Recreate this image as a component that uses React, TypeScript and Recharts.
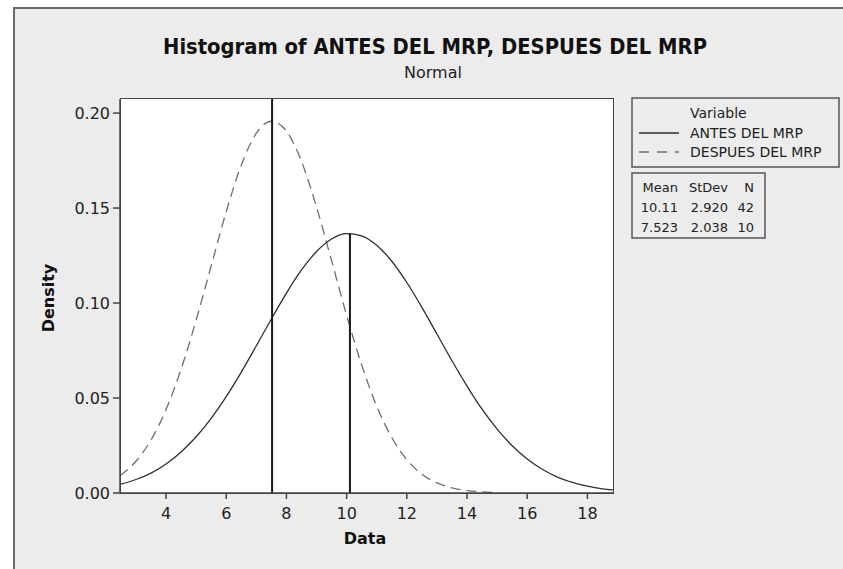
import React from "react";
import { LineChart, Line, XAxis, YAxis, ReferenceLine } from "recharts";

// x positions where the fitted densities are sampled
const xValues = [
  2.47, 3, 3.5, 4, 4.5, 5, 5.5, 6, 6.5, 7, 7.5, 8, 8.5, 9, 9.5, 10, 10.5, 11,
  11.5, 12, 12.5, 13, 13.5, 14, 14.5, 15, 15.5, 16, 16.5, 17, 17.5, 18, 18.5,
  18.85,
];

// ANTES DEL MRP fitted normal density
const antesDensity = [
  0.0045, 0.0071, 0.0105, 0.0153, 0.0216, 0.0296, 0.0393, 0.0507, 0.0636,
  0.0775, 0.0916, 0.1052, 0.1174, 0.1271, 0.1337, 0.1365, 0.1354, 0.1304,
  0.122, 0.1108, 0.0977, 0.0837, 0.0696, 0.0563, 0.0441, 0.0336, 0.0249,
  0.0179, 0.0125, 0.0084, 0.0056, 0.0036, 0.0022, 0.0016,
];

// DESPUES DEL MRP fitted normal density
const despuesDensity = [
  0.0091, 0.0167, 0.0279, 0.0439, 0.0652, 0.091, 0.1196, 0.1481, 0.1726,
  0.1894, 0.1957, 0.1905, 0.1745, 0.1505, 0.1223, 0.0935, 0.0674, 0.0457,
  0.0292, 0.0175, 0.0099, 0.0053, 0.0027, 0.0013, 0.0006, 0.0002, null, null,
  null, null, null, null, null, null,
];

const seriesNames = ["ANTES DEL MRP", "DESPUES DEL MRP"];
const means = [10.11, 7.523];
const stdDevs = ["2.920", "2.038"];
const counts = [42, 10];
const meanLineTops = [0.1366, 0.2074];

const xTicks = [4, 6, 8, 10, 12, 14, 16, 18];
const yTicks = [0, 0.05, 0.1, 0.15, 0.2];
const X_DOMAIN: [number, number] = [2.47, 18.85];
const Y_DOMAIN: [number, number] = [0, 0.2074];

const rows = xValues.map((x, i) => ({
  x,
  antes: antesDensity[i],
  despues: despuesDensity[i],
}));

const FONT = "'DejaVu Sans', Verdana, sans-serif";

export default function App() {
  return (
    <div style={{ position: "relative", width: 843, height: 569, overflow: "hidden", background: "#fff", fontFamily: FONT }}>
      <style>{"body{margin:0}"}</style>

      {/* graph frame */}
      <div
        style={{
          position: "absolute",
          left: 13,
          top: 7,
          width: 860,
          height: 600,
          background: "#ececec",
          border: "2px solid #6a6a6a",
          boxSizing: "border-box",
        }}
      />

      {/* data region */}
      <div
        style={{
          position: "absolute",
          left: 120,
          top: 99,
          width: 493,
          height: 394,
          background: "#fff",
        }}
      />

      <div style={{ position: "absolute", left: 0, top: 0 }}>
        <LineChart
          width={843}
          height={569}
          data={rows}
          margin={{ top: 99, right: 230, bottom: 46, left: 60 }}
        >
          <XAxis
            type="number"
            dataKey="x"
            domain={X_DOMAIN}
            ticks={xTicks}
            allowDataOverflow
            height={30}
            tickSize={6}
            tickMargin={9}
            axisLine={{ stroke: "#444", strokeWidth: 1.5 }}
            tickLine={{ stroke: "#444", strokeWidth: 1.5 }}
            tick={{ fill: "#222", fontSize: 16, fontFamily: FONT }}
          />
          <YAxis
            type="number"
            domain={Y_DOMAIN}
            ticks={yTicks}
            allowDataOverflow
            width={60}
            tickSize={7}
            tickMargin={3}
            tickFormatter={(v: number) => v.toFixed(2)}
            axisLine={{ stroke: "#444", strokeWidth: 1.5 }}
            tickLine={{ stroke: "#444", strokeWidth: 1.5 }}
            tick={{ fill: "#222", fontSize: 16, fontFamily: FONT }}
          />
          <Line
            dataKey="despues"
            type="monotone"
            stroke="#6e6e6e"
            strokeWidth={1.3}
            strokeDasharray="10 6"
            dot={false}
            activeDot={false}
            isAnimationActive={false}
          />
          <Line
            dataKey="antes"
            type="monotone"
            stroke="#2e2e2e"
            strokeWidth={1.3}
            dot={false}
            activeDot={false}
            isAnimationActive={false}
          />
          {means.map((m, i) => (
            <ReferenceLine
              key={seriesNames[i]}
              segment={[
                { x: m, y: 0 },
                { x: m, y: meanLineTops[i] },
              ]}
              stroke="#1a1a1a"
              strokeWidth={2}
              ifOverflow="visible"
            />
          ))}
        </LineChart>
      </div>

      {/* top and right border of the data region */}
      <div
        style={{
          position: "absolute",
          left: 120,
          top: 98,
          width: 494,
          height: 396,
          border: "1.5px solid #444",
          boxSizing: "border-box",
          pointerEvents: "none",
        }}
      />

      <svg
        width={843}
        height={569}
        style={{ position: "absolute", left: 0, top: 0, pointerEvents: "none" }}
        fontFamily={FONT}
      >
        <text
          x={435}
          y={54}
          textAnchor="middle"
          fontSize={21}
          fontWeight="bold"
          fill="#111"
          textLength={544}
          lengthAdjust="spacingAndGlyphs"
        >
          Histogram of ANTES DEL MRP, DESPUES DEL MRP
        </text>
        <text x={433} y={78} textAnchor="middle" fontSize={16} fill="#222">
          Normal
        </text>

        <text
          x={48}
          y={298}
          textAnchor="middle"
          dominantBaseline="central"
          fontSize={16}
          fontWeight="bold"
          fill="#111"
          transform="rotate(-90 48 298)"
        >
          Density
        </text>
        <text x={365} y={538} textAnchor="middle" dominantBaseline="central" fontSize={16} fontWeight="bold" fill="#111">
          Data
        </text>

        {/* series legend */}
        <rect x={632} y={98} width={207} height={69} fill="none" stroke="#555" strokeWidth={1.5} />
        <text x={690} y={118} fontSize={14} fill="#222">Variable</text>
        <line x1={639} y1={133} x2={679} y2={133} stroke="#2e2e2e" strokeWidth={1.3} />
        <text x={690} y={138} fontSize={14} fill="#222">{seriesNames[0]}</text>
        <line x1={639} y1={152} x2={679} y2={152} stroke="#6e6e6e" strokeWidth={1.3} strokeDasharray="10 8" />
        <text x={690} y={157} fontSize={14} fill="#222">{seriesNames[1]}</text>

        {/* fit statistics */}
        <rect x={632} y={173} width={133} height={65} fill="none" stroke="#555" strokeWidth={1.5} />
        <text x={678} y={192} fontSize={13} fill="#222" textAnchor="end">Mean</text>
        <text x={728} y={192} fontSize={13} fill="#222" textAnchor="end">StDev</text>
        <text x={754} y={192} fontSize={13} fill="#222" textAnchor="end">N</text>
        {means.map((m, i) => (
          <g key={seriesNames[i]}>
            <text x={678} y={212 + i * 20} fontSize={13} fill="#222" textAnchor="end">{String(m)}</text>
            <text x={728} y={212 + i * 20} fontSize={13} fill="#222" textAnchor="end">{stdDevs[i]}</text>
            <text x={754} y={212 + i * 20} fontSize={13} fill="#222" textAnchor="end">{counts[i]}</text>
          </g>
        ))}
      </svg>
    </div>
  );
}
